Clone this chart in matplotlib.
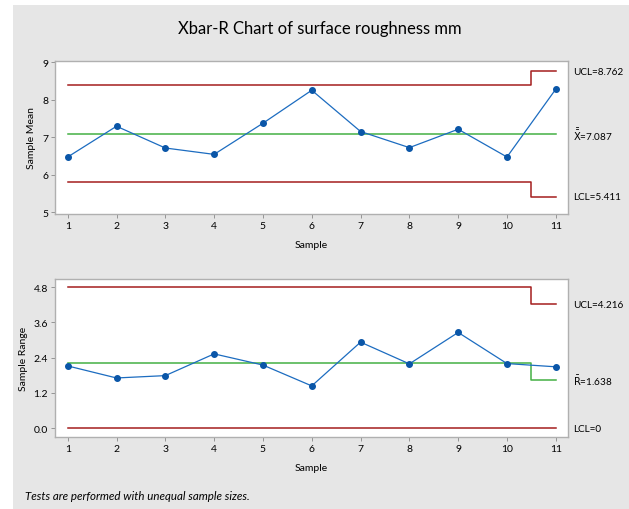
import numpy as np
import matplotlib
matplotlib.use('Agg')
import matplotlib.pyplot as plt
from matplotlib.patches import Rectangle

plt.rcParams['font.family'] = ['Lato', 'DejaVu Sans']

# dane
samples = list(range(1, 12))
xbar = [6.47, 7.29, 6.71, 6.54, 7.37, 8.25, 7.15, 6.72, 7.21, 6.47, 8.28]
ranges = [2.12, 1.71, 1.79, 2.53, 2.15, 1.44, 2.93, 2.19, 3.26, 2.20, 2.09]

# granice kontrolne (zmieniaja sie dla ostatniej probki)
x_ucl = [8.377, 8.762]
x_center = [7.087, 7.087]
x_lcl = [5.797, 5.411]
r_ucl = [4.80, 4.216]
r_center = [2.23, 1.638]
r_lcl = [0.0, 0.0]

x_ticks = samples
mean_ticks = [5, 6, 7, 8, 9]
range_ticks = [0.0, 1.2, 2.4, 3.6, 4.8]

red = '#a41e1e'
green = '#44b044'
blue = '#1c6cc0'
dot = '#0a56a8'
W, H = 629, 510

fig = plt.figure(figsize=(W / 100, H / 100), dpi=100, facecolor='white')
fig.patches.append(Rectangle((13 / W, 0), 1, 1 - 6 / H, transform=fig.transFigure,
                             facecolor='#e6e6e6', edgecolor='none', zorder=-5))


def step_line(ax, vals, color):
    xs = [1, 10.5, 10.5, 11]
    ys = [vals[0], vals[0], vals[1], vals[1]]
    ax.plot(xs, ys, color=color, linewidth=1.1, zorder=2)


def panel(rect, data, ucl, cen, lcl, yticks, ylim, ylabel, labels):
    ax = fig.add_axes(rect)
    ax.set_facecolor('white')
    step_line(ax, ucl, red)
    step_line(ax, cen, green)
    step_line(ax, lcl, red)
    ax.plot(samples, data, color=blue, linewidth=0.9, marker='o', markersize=4,
            markerfacecolor=dot, markeredgecolor=dot, zorder=3)
    ax.set_xlim(0.74, 11.25)
    ax.set_ylim(*ylim)
    ax.set_xticks(x_ticks)
    ax.set_yticks(yticks)
    if isinstance(yticks[0], float):
        ax.set_yticklabels([f'{t:.1f}' for t in yticks])
    ax.tick_params(labelsize=7.5, length=3, width=0.6, color='#888888', pad=2)
    for s in ax.spines.values():
        s.set_color('#b0b0b0')
        s.set_linewidth(1.0)
    ax.set_xlabel('Sample', fontsize=7.5, labelpad=7)
    ax.set_ylabel(ylabel, fontsize=7.5, labelpad=4)
    for (txt, yv) in labels:
        ax.text(1.01, yv, txt, transform=ax.get_yaxis_transform(), fontsize=7.2,
                va='center', ha='left', family=['Liberation Sans Narrow', 'Lato'])
    return ax


panel([55 / W, 1 - 215 / H, 513 / W, 153 / H], xbar, x_ucl, x_center, x_lcl,
      mean_ticks, (4.95, 9.03), 'Sample Mean',
      [('UCL=8.762', x_ucl[1]), (r'$\bar{\bar{\mathrm{X}}}$=7.087', x_center[1]),
       ('LCL=5.411', x_lcl[1])])

panel([55 / W, 1 - 438 / H, 513 / W, 158 / H], ranges, r_ucl, r_center, r_lcl,
      range_ticks, (-0.30, 5.08), 'Sample Range',
      [('UCL=4.216', r_ucl[1]), (r'$\bar{\mathrm{R}}$=1.638', r_center[1]),
       ('LCL=0', r_lcl[1])])

fig.text(320 / W, 1 - 29 / H, 'Xbar-R Chart of surface roughness mm', fontsize=12,
         ha='center', va='center')
fig.text(25 / W, 1 - 497 / H, 'Tests are performed with unequal sample sizes.',
         fontsize=8.3, style='italic', ha='left', va='center')

plt.savefig('out.png', dpi=100)
